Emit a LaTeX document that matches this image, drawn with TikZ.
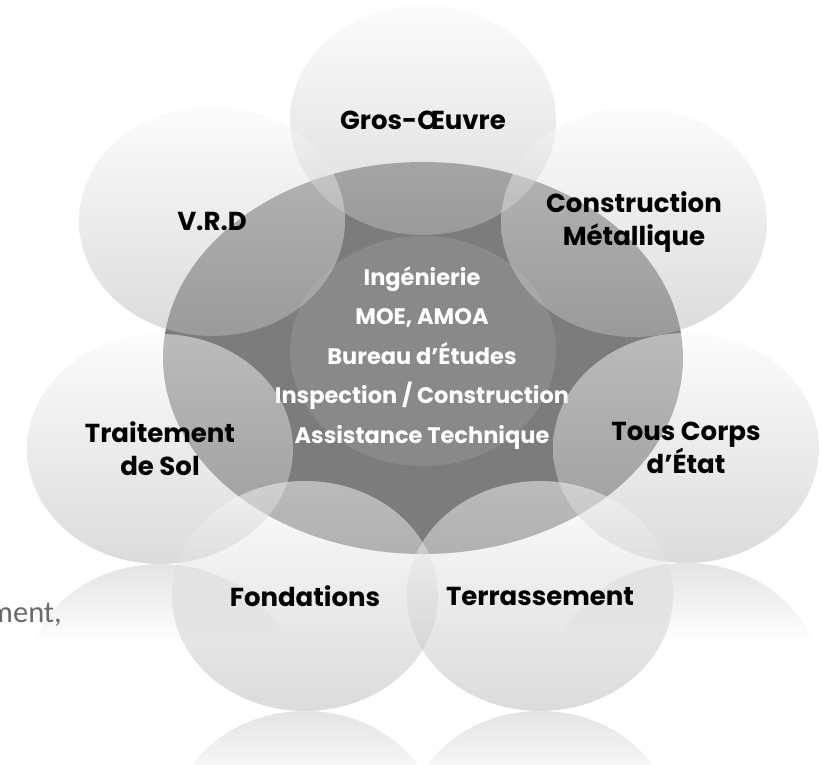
\documentclass[tikz,border=0pt]{standalone}
\usepackage{fontspec}
\setmainfont{Poppins}
\newfontfamily\notefont{Carlito}
\usepackage{tikz}
\usetikzlibrary{shapes.geometric}

\definecolor{hubgray}{RGB}{124,124,124}
\definecolor{bubblebot}{RGB}{185,185,185}
\definecolor{bubbletop}{RGB}{250,250,250}
\definecolor{reflgray}{RGB}{228,228,228}
\definecolor{notegray}{RGB}{105,105,105}

\tikzset{
  bubble/.style={ellipse, minimum width=266pt, minimum height=230pt, inner sep=0pt,
    top color=bubbletop, bottom color=bubblebot, fill opacity=0.5, text opacity=1,
    font=\fontsize{26}{33}\selectfont\bfseries, align=center},
  hub/.style={ellipse, minimum width=520pt, minimum height=392pt, fill=hubgray},
  core/.style={ellipse, minimum width=266pt, minimum height=230pt, fill=white, fill opacity=0.1},
  hubtext/.style={font=\fontsize{22.5}{39.5}\selectfont\bfseries, text=white, align=center},
}

% reflection under a bubble: x centre, mirror line
\newcommand{\mirrorbubble}[2]{%
  \begin{scope}
    \clip (#1,#2+115) ellipse (133 and 115);
    \shade[top color=reflgray, bottom color=white] (#1-133,#2) rectangle (#1+133,#2+80);
  \end{scope}}

\begin{document}
\begin{tikzpicture}[x=1pt,y=-1pt]
  \useasboundingbox[fill=white] (0,0) rectangle (822,765);

  % reflections
  \mirrorbubble{160}{564}
  \mirrorbubble{686}{563}
  \mirrorbubble{305}{711}
  \mirrorbubble{540}{711}

  \node[text=notegray, font=\notefont\fontsize{30.5}{36}\selectfont,
    anchor=base east, inner sep=0pt] (note) at (62,622) {ment,};

  % centre
  \node[hub] (hub) at (423,358) {};
  \node[core] (core) at (423,351) {};
  \node[hubtext] (hubtext) at (422,358)
    {Ingénierie\\MOE, AMOA\\Bureau d’Études\\Inspection / Construction\\Assistance Technique};

  % outer bubbles
  \node[bubble] (gros)  at (423,120) {Gros-Œuvre};
  \node[bubble] (vrd)   at (212,221) {V.R.D};
  \node[bubble] (metal) at (634,222) {Construction\\Métallique};
  \node[bubble] (sol)   at (160,449) {Traitement\\de Sol};
  \node[bubble] (corps) at (686,448) {Tous Corps\\d’État};
  \node[bubble] (fond)  at (305,596) {Fondations};
  \node[bubble] (terr)  at (540,596) {Terrassement};
\end{tikzpicture}
\end{document}
